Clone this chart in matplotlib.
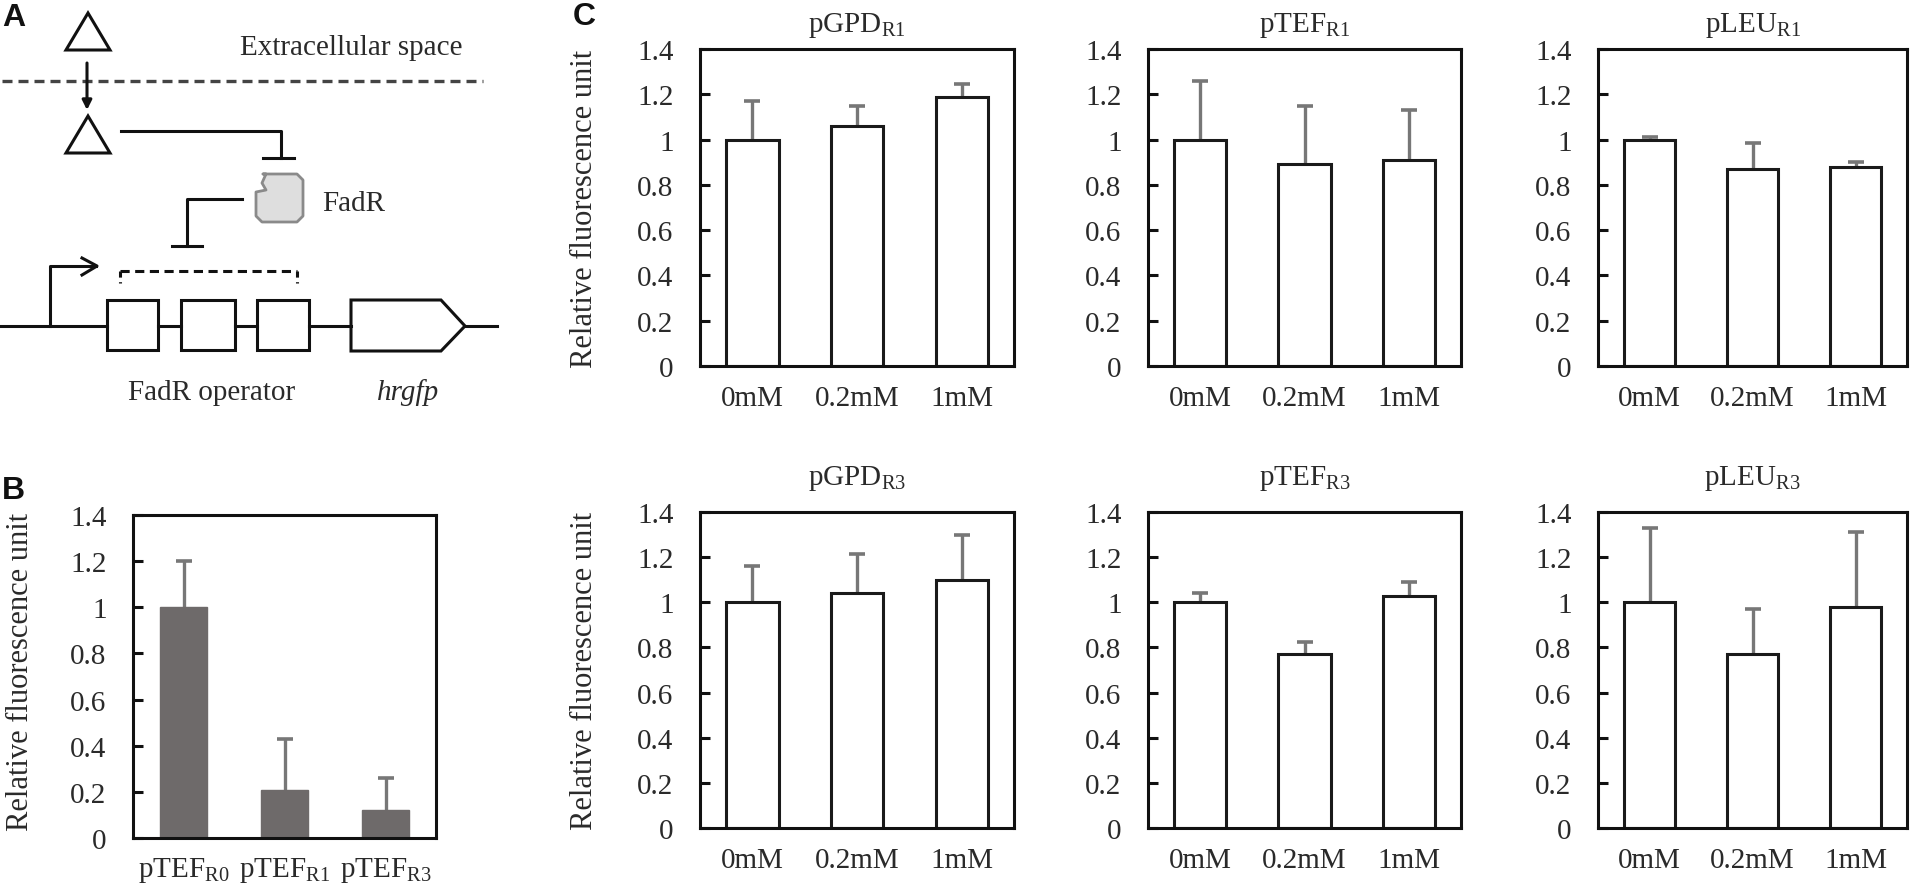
import matplotlib
matplotlib.use('Agg')
import matplotlib.pyplot as plt
from matplotlib.patches import Polygon, FancyBboxPatch

plt.rcParams['font.family'] = ['Liberation Serif', 'DejaVu Serif']
plt.rcParams['mathtext.fontset'] = 'custom'
plt.rcParams['mathtext.rm'] = 'Liberation Serif'
plt.rcParams['mathtext.it'] = 'Liberation Serif:italic'

# ---------------- data ----------------
conditions = ['0mM', '0.2mM', '1mM']

gpd_r1 = [1.00, 1.06, 1.19]
gpd_r1_sd = [0.17, 0.09, 0.055]
tef_r1 = [1.00, 0.89, 0.91]
tef_r1_sd = [0.26, 0.26, 0.22]
leu_r1 = [1.00, 0.87, 0.88]
leu_r1_sd = [0.013, 0.115, 0.022]

gpd_r3 = [1.00, 1.04, 1.10]
gpd_r3_sd = [0.16, 0.175, 0.20]
tef_r3 = [1.00, 0.77, 1.03]
tef_r3_sd = [0.04, 0.055, 0.06]
leu_r3 = [1.00, 0.77, 0.98]
leu_r3_sd = [0.33, 0.20, 0.33]

panel_c_titles = ['pGPD$_{\\rm R1}$', 'pTEF$_{\\rm R1}$', 'pLEU$_{\\rm R1}$',
                  'pGPD$_{\\rm R3}$', 'pTEF$_{\\rm R3}$', 'pLEU$_{\\rm R3}$']

b_labels = ['pTEF$_{\\rm R0}$', 'pTEF$_{\\rm R1}$', 'pTEF$_{\\rm R3}$']
b_values = [1.00, 0.21, 0.12]
b_sd = [0.20, 0.22, 0.14]

y_ticks = [0, 0.2, 0.4, 0.6, 0.8, 1.0, 1.2, 1.4]
y_ticklabels = ['0', '0.2', '0.4', '0.6', '0.8', '1', '1.2', '1.4']
ylabel = 'Relative fluorescence unit'

# ---------------- figure ----------------
W, H = 1914, 887
fig = plt.figure(figsize=(W / 100, H / 100), dpi=100)
TXT = '#2a2a2a'
ERR = '#777777'


def rect(l, t, r, b):
    return [l / W, 1 - b / H, (r - l) / W, (b - t) / H]


# overlay axes in pixel coordinates for schematic (panel A)
ax0 = fig.add_axes([0, 0, 1, 1], zorder=0)
ax0.set_xlim(0, W)
ax0.set_ylim(H, 0)
ax0.axis('off')

LW = 2.2
K = '#111111'
# triangles
for ty in (14, 117):
    ax0.add_patch(Polygon([(88, ty), (66, ty + 37), (110, ty + 37)], closed=True,
                          fill=False, ec=K, lw=LW))
# membrane
ax0.plot([2, 483], [82, 82], color='#444444', lw=2.4, ls=(0, (3, 1.8)))
ax0.text(240, 48, 'Extracellular space', fontsize=21, color=TXT, va='center', ha='left')
# transport arrow
ax0.annotate('', xy=(87, 111), xytext=(87, 64),
             arrowprops=dict(arrowstyle='-|>', lw=LW, color=K, mutation_scale=14,
                             shrinkA=0, shrinkB=0))
# inhibition 1
ax0.plot([121, 281, 281], [132, 132, 159], color=K, lw=LW)
ax0.plot([263, 294], [159, 159], color=K, lw=LW)
# FadR shape
fadr = Polygon([(263, 175), (297, 175), (303, 181), (303, 217), (297, 223),
                (262, 223), (256, 217), (256, 193), (266, 191), (262, 184), (266, 175)],
               closed=True, fc='#dedede', ec='#8a8a8a', lw=2, joinstyle='round')
ax0.add_patch(fadr)
ax0.text(322, 204, 'FadR', fontsize=21, color=TXT, va='center', ha='left')
# inhibition 2
ax0.plot([242, 187, 187], [200, 200, 247], color=K, lw=LW)
ax0.plot([172, 202], [247, 247], color=K, lw=LW)
# promoter arrow
ax0.plot([50, 50, 96], [327, 267, 267], color=K, lw=LW)
ax0.plot([82, 97, 82], [259, 267, 276], color=K, lw=LW)
# dashed bracket
ax0.plot([120, 297], [272, 272], color=K, lw=LW, ls=(0, (3, 1.8)))
ax0.plot([120, 120], [272, 284], color=K, lw=LW, ls=(0, (2, 1.5)))
ax0.plot([297, 297], [272, 284], color=K, lw=LW, ls=(0, (2, 1.5)))
# DNA baseline and operator boxes
ax0.plot([0, 107], [327, 327], color=K, lw=LW)
ax0.plot([158, 181], [327, 327], color=K, lw=LW)
ax0.plot([235, 257], [327, 327], color=K, lw=LW)
ax0.plot([309, 351], [327, 327], color=K, lw=LW)
ax0.plot([465, 497], [327, 327], color=K, lw=LW)
for (x0, x1) in [(107, 158), (181, 235), (257, 309)]:
    ax0.add_patch(Polygon([(x0, 301), (x1, 301), (x1, 351), (x0, 351)], closed=True,
                          fill=False, ec=K, lw=LW))
ax0.add_patch(Polygon([(351, 301), (441, 301), (465, 327), (441, 352), (351, 352)],
                      closed=True, fill=False, ec=K, lw=LW))
ax0.text(212, 393, 'FadR operator', fontsize=21, color=TXT, va='center', ha='center')
ax0.text(408, 393, 'hrgfp', fontsize=21, color=TXT, va='center', ha='center', style='italic')

# panel letters
for lab, x, y in [('A', 2, 18), ('B', 2, 491), ('C', 573, 17)]:
    fig.text(x / W, 1 - y / H, lab, fontsize=23, fontweight='bold',
             family='Liberation Sans', va='center', ha='left', color='#111111')


def style(ax, labels):
    ax.set_ylim(0, 1.4)
    ax.set_xlim(-0.5, 2.5)
    ax.set_yticks(y_ticks)
    ax.set_yticklabels(y_ticklabels)
    ax.set_xticks(range(len(labels)))
    ax.set_xticklabels(labels)
    ax.tick_params(axis='y', direction='in', length=7.5, width=2.2, pad=19,
                   labelsize=21, color=K, labelcolor=TXT)
    ax.tick_params(axis='x', length=0, pad=14, labelsize=21, labelcolor=TXT)
    for s in ax.spines.values():
        s.set_linewidth(2.2)
        s.set_color(K)


def draw_err(ax, x, vals, sds):
    tops = [v + s for v, s in zip(vals, sds)]
    ax.vlines(x, vals, tops, colors=ERR, lw=2.4, zorder=1)
    ax.plot(x, tops, ls='none', marker='_', ms=11, mew=2.6, color=ERR, zorder=1)


# panel C
cols = [(700, 1014), (1148, 1461), (1598, 1907)]
rows = [(50, 367), (513, 829)]
c_vals = [gpd_r1, tef_r1, leu_r1, gpd_r3, tef_r3, leu_r3]
c_sds = [gpd_r1_sd, tef_r1_sd, leu_r1_sd, gpd_r3_sd, tef_r3_sd, leu_r3_sd]
for i in range(6):
    r, c = divmod(i, 3)
    l, rr = cols[c]
    t, b = rows[r]
    ax = fig.add_axes(rect(l, t, rr, b), zorder=2)
    x = list(range(len(conditions)))
    ax.bar(x, c_vals[i], width=0.5, color='white', edgecolor='#1a1a1a', lw=2.2, zorder=2)
    draw_err(ax, x, c_vals[i], c_sds[i])
    style(ax, conditions)
    ax.set_title(panel_c_titles[i], fontsize=21, color=TXT, pad=13 if r == 0 else 20)

# y labels for panel C
for (t, b) in rows:
    fig.text(584 / W, 1 - (t + b) / 2 / H, ylabel, rotation=90, fontsize=22,
             color=TXT, va='center', ha='center')

# panel B
axb = fig.add_axes(rect(133, 516, 436, 839), zorder=2)
xb = list(range(len(b_labels)))
axb.bar(xb, b_values, width=0.46, color='#6e6a6a', edgecolor='#6e6a6a', lw=1, zorder=2)
draw_err(axb, xb, b_values, b_sd)
style(axb, b_labels)
axb.tick_params(axis='x', pad=12)
fig.text(21 / W, 1 - 672 / H, ylabel, rotation=90, fontsize=22, color=TXT,
         va='center', ha='center')

fig.savefig('out.png', dpi=100, facecolor='white')
